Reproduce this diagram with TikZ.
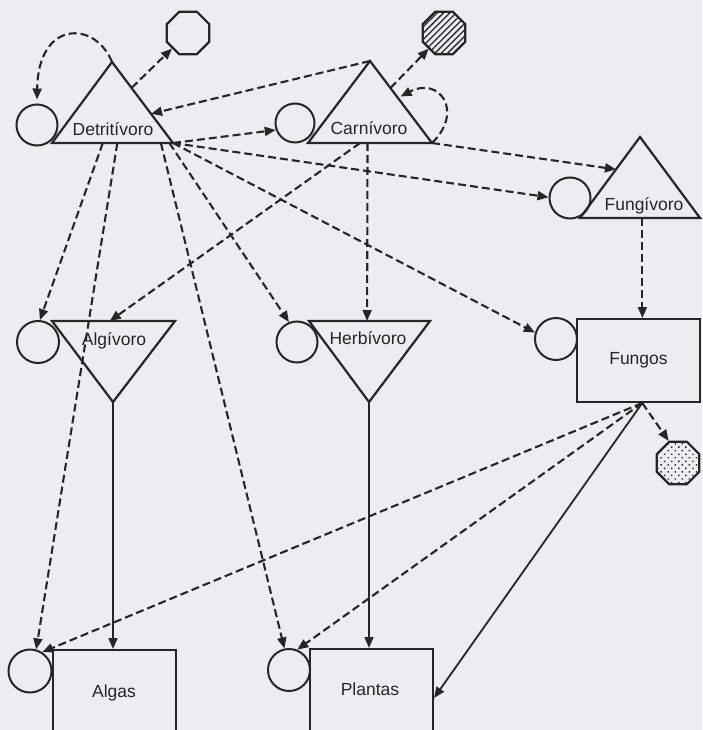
\documentclass[tikz,border=0pt]{standalone}
\usepackage{fontspec}
\setmainfont{Liberation Sans}
\usetikzlibrary{arrows.meta,shapes.geometric,patterns.meta,calc}
\definecolor{bg}{RGB}{237,237,241}
\definecolor{ink}{RGB}{38,38,38}
\begin{document}
\begin{tikzpicture}[x=1pt,y=-1pt,
  shapeline/.style={draw=ink,line width=2.2pt,line join=miter},
  dead/.style={circle,draw=ink,line width=2pt,minimum size=41pt,inner sep=0pt},
  octa/.style={regular polygon,regular polygon sides=8,draw=ink,line width=2.2pt,minimum size=46pt,inner sep=0pt},
  rectbox/.style={rectangle,draw=ink,line width=2pt,inner sep=0pt},
  lbl/.style={font=\fontsize{17.5}{20}\selectfont,text=ink,inner sep=0pt,anchor=base},
  flow/.style={draw=ink,line width=2.1pt,dash pattern=on 8pt off 4pt,-{Triangle[length=11pt,width=9pt]}},
  feed/.style={draw=ink,line width=1.8pt,-{Triangle[length=11pt,width=9pt]}},
]
\useasboundingbox (0,0) rectangle (702,730);
\fill[bg] (0,0) rectangle (702,730);
\clip (0,0) rectangle (702,730);

% ---- triangles (vertices) ----
\coordinate (DA) at (112,62);  \coordinate (DL) at (52,143);  \coordinate (DR) at (173,143);
\coordinate (CA) at (370,61);  \coordinate (CL) at (308,143); \coordinate (CR) at (432,143);
\coordinate (FA) at (640,137); \coordinate (FL) at (580,218); \coordinate (FR) at (700,218);
\coordinate (AL) at (52,321);  \coordinate (AR) at (175,321); \coordinate (AA) at (113,402);
\coordinate (HL) at (309,321); \coordinate (HR) at (430,321); \coordinate (HA) at (369,402);

\draw[shapeline] (DA) -- (DR) -- (DL) -- cycle;
\draw[shapeline] (CA) -- (CR) -- (CL) -- cycle;
\draw[shapeline] (FA) -- (FR) -- (FL) -- cycle;
\draw[shapeline] (AL) -- (AR) -- (AA) -- cycle;
\draw[shapeline] (HL) -- (HR) -- (HA) -- cycle;

\node[lbl] (Dt) at (113,136) {Detritívoro};
\node[lbl] (Ct) at (369,134.5) {Carnívoro};
\node[lbl] (Ft) at (644,210.5) {Fungívoro};
\node[lbl] (At) at (114,345.5) {Algívoro};
\node[lbl] (Ht) at (368,344.5) {Herbívoro};

% ---- circles ----
\node[dead] (DC) at (37,125) {};
\node[dead,minimum size=39pt] (CC) at (295,123) {};
\node[dead] (FC) at (570,198) {};
\node[dead,minimum size=42pt] (AC) at (38,342) {};
\node[dead] (HC) at (297,342) {};
\node[dead,minimum size=42pt] (FgC) at (556,339) {};
\node[dead,minimum size=43pt] (AlC) at (30,671) {};
\node[dead,minimum size=42pt] (PC) at (289,670) {};

% ---- octagons ----
\node[octa] (DO) at (188,33) {};
\node[octa,pattern={Lines[angle=45,distance=4.5pt,line width=1.3pt]},pattern color=ink] (CO) at (444,33) {};
\node[octa,pattern={Dots[angle=45,distance=5pt,radius=1pt]},pattern color=ink] (FO) at (678,463) {};

% ---- rectangles ----
\node[rectbox,minimum width=123pt,minimum height=83pt,font=\fontsize{17.5}{20}\selectfont,text=ink] (Fg) at (638.5,360.5) {Fungos};
\node[rectbox,minimum width=123pt,minimum height=122pt,anchor=north west] (Alg) at (52,649) {};
\node[rectbox,minimum width=123pt,minimum height=122pt,anchor=north west] (Pl) at (309,648) {};
\node[lbl] (Algt) at (114,697.5) {Algas};
\node[lbl] (Plt) at (370,695.5) {Plantas};

% ---- connector anchor points ----
\coordinate (Fb) at ($(FL)!0.52!(FR)$);
\coordinate (Fs) at ($(Fg.south west)!0.53!(Fg.south east)$);

% ---- dashed flows ----
\draw[flow,shorten >=4pt] (DA) .. controls (95,20) and (38,20) .. (DC.north);
\draw[flow] ($(DA)!0.32!(DR)$) -- (DO);
\draw[flow] ($(CA)!0.33!(CR)$) -- (CO);
\draw[flow,shorten >=3pt] (CR) .. controls (464,112) and (440,76) .. ($(CA)!0.45!(CR)$);
\draw[flow] (CA) -- ($(DA)!0.64!(DR)$);
\draw[flow] (DR) -- (CC.200);
\draw[flow] (DR) -- (FC.178);
\draw[flow] (DR) -- (FgC.163);
\draw[flow] ($(DL)!0.9!(DR)$) -- (PC.102);
\draw[flow] ($(DL)!0.97!(DR)$) -- (HC.112);
\draw[flow] ($(DL)!0.42!(DR)$) -- (AC.85);
\draw[flow] ($(DL)!0.54!(DR)$) -- (AlC.74);
\draw[flow] (CR) -- ($(FL)!0.6!(FA)$);
\draw[flow] ($(CL)!0.48!(CR)$) -- ($(HL)!0.48!(HR)$);
\draw[flow] ($(CL)!0.42!(CR)$) -- ($(AL)!0.47!(AR)$);
\draw[flow] (Fb) -- (Fb |- Fg.north);
\draw[flow] (Fs) -- (AlC.57);
\draw[flow] (Fs) -- (PC.68);
\draw[flow] (Fs) -- (FO.113);

% ---- solid flows ----
\draw[feed] (AA) -- (AA |- Alg.north);
\draw[feed] (HA) -- (HA |- Pl.north);
\draw[feed] (Fs) -- ($(Pl.north east)+(0,50)$);
\end{tikzpicture}
\end{document}
